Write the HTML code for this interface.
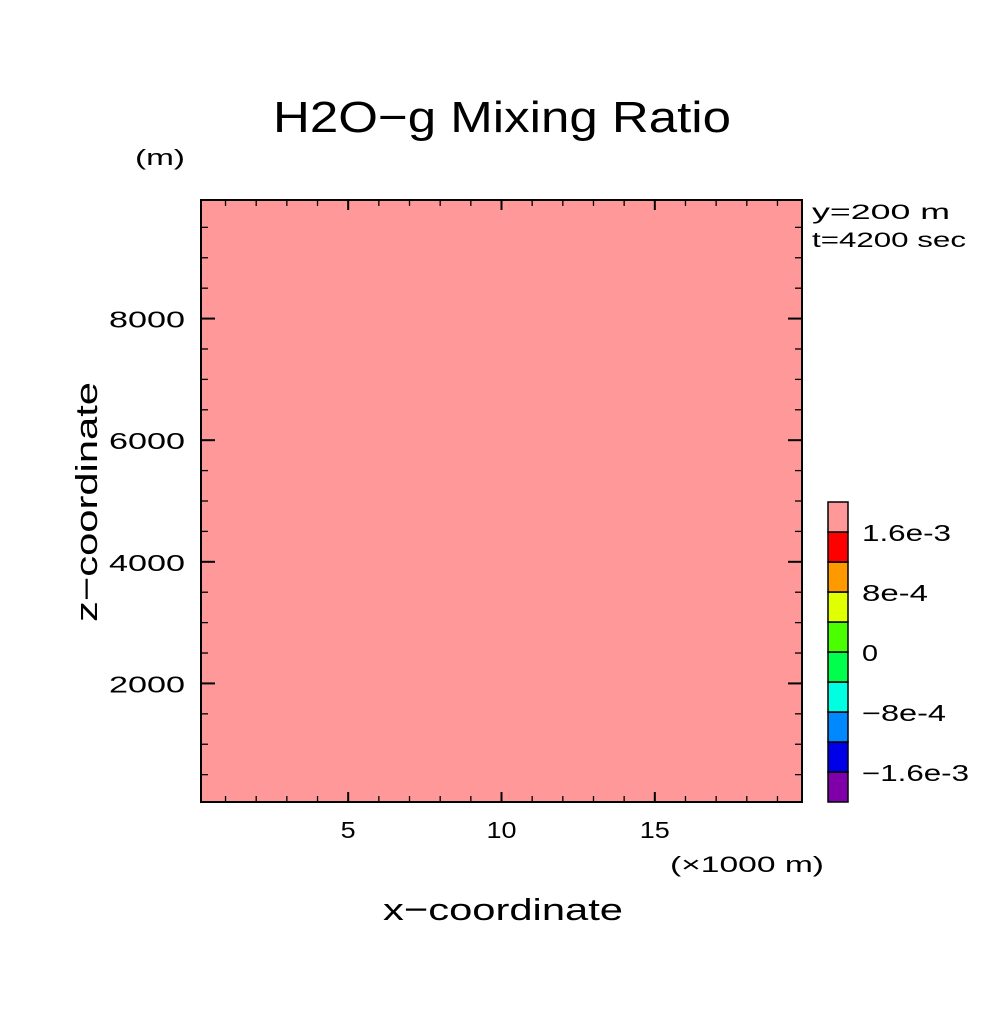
<!DOCTYPE html>
<html><head><meta charset="utf-8"><style>
html,body{margin:0;padding:0;background:#fff;}
svg text{font-family:"Liberation Sans",sans-serif;fill:#000;}
</style></head><body>
<svg id="c" width="1004" height="1004" viewBox="0 0 1004 1004" xmlns="http://www.w3.org/2000/svg">
<rect width="1004" height="1004" fill="#fff"/>
<text x="502" y="132" font-size="44" text-anchor="middle" textLength="458" lengthAdjust="spacingAndGlyphs">H2O−g Mixing Ratio</text>
<text x="135" y="165" font-size="22" textLength="50" lengthAdjust="spacingAndGlyphs">(m)</text>
<text x="812" y="219" font-size="21" textLength="138" lengthAdjust="spacingAndGlyphs">y=200 m</text>
<text x="812" y="247" font-size="21" textLength="154" lengthAdjust="spacingAndGlyphs">t=4200 sec</text>
<text x="503" y="920" font-size="31" text-anchor="middle" textLength="240" lengthAdjust="spacingAndGlyphs">x−coordinate</text>
<text transform="translate(97,502) rotate(-90)" font-size="31" text-anchor="middle" textLength="240" lengthAdjust="spacingAndGlyphs">z−coordinate</text>
<text x="670" y="872" font-size="22" textLength="154" lengthAdjust="spacingAndGlyphs">(×1000 m)</text>
<g id="plot"></g>
</svg>
<script>
const xDomain=[0.2,19.8];
const yDomain=[50,9950];
const xTicks=[5,10,15];
const yTicks=[2000,4000,6000,8000];
const fieldValue=[0.0018];
const cbColors=["#7f00a8","#0000e8","#0088ff","#00ffe0","#00ff4c","#4cff00","#e0ff00","#ff9900","#ff0000","#ff9999"];
const cbLevels=[-0.0016,-0.0012,-0.0008,-0.0004,0,0.0004,0.0008,0.0012,0.0016];
const cbLabels=["−1.6e-3","","−8e-4","","0","","8e-4","","1.6e-3"];
const NS="http://www.w3.org/2000/svg";
const L=201,R=802,T=200,B=802;
const sx=v=>L+(v-xDomain[0])/(xDomain[1]-xDomain[0])*(R-L);
const sy=v=>B-(v-yDomain[0])/(yDomain[1]-yDomain[0])*(B-T);
const g=document.getElementById('plot');
function mk(t,a){const e=document.createElementNS(NS,t);for(const k in a)e.setAttribute(k,a[k]);g.appendChild(e);return e;}
function colorFor(v){let i=0;while(i<cbLevels.length&&v>=cbLevels[i])i++;return cbColors[i];}
let f=mk('rect',{x:L,y:T,width:R-L,height:B-T,fill:colorFor(fieldValue[0])});


for(let v=1;v<=19;v++){const x=sx(v);const len=v%5===0?10:6;
 let t=mk('line',{x1:x,y1:B,x2:x,y2:B-len,stroke:'#000','stroke-width':v%5===0?2:1.3});
 
 t=mk('line',{x1:x,y1:T,x2:x,y2:T+len,stroke:'#000','stroke-width':v%5===0?2:1.3});
 }
for(let v=500;v<=9500;v+=500){const y=sy(v);const maj=v%2000===0;const len=maj?14:7;
 let t=mk('line',{x1:L,y1:y,x2:L+len,y2:y,stroke:'#000','stroke-width':maj?2:1.3});
 
 t=mk('line',{x1:R,y1:y,x2:R-len,y2:y,stroke:'#000','stroke-width':maj?2:1.3});
 }
xTicks.forEach(v=>{const s=String(v);const t=mk('text',{x:sx(v),y:838,'font-size':23,'text-anchor':'middle',textLength:s.length*15,lengthAdjust:'spacingAndGlyphs'});t.textContent=s;
 });
yTicks.forEach(v=>{const t=mk('text',{x:185,y:sy(v)+9,'font-size':23,'text-anchor':'end',textLength:76,lengthAdjust:'spacingAndGlyphs'});t.textContent=v;
 });
let fr=mk('rect',{x:L,y:T,width:R-L,height:B-T,fill:'none',stroke:'#000','stroke-width':2});

const cbX=828,cbW=20,cbB=802,cbH=30;
cbColors.forEach((c,i)=>{const r=mk('rect',{x:cbX,y:cbB-(i+1)*cbH,width:cbW,height:cbH,fill:c,stroke:'#000','stroke-width':1.5});
 });
const charW=s=>{let w=0;for(const ch of s){w+=ch==='.'?7:ch==='−'||ch==='-'?18:16;}return w;};
cbLabels.forEach((s,i)=>{if(!s)return;const t=mk('text',{x:862,y:cbB-(i+1)*cbH+9,'font-size':23,textLength:charW(s),lengthAdjust:'spacingAndGlyphs'});t.textContent=s;
 });
</script>
</body></html>
